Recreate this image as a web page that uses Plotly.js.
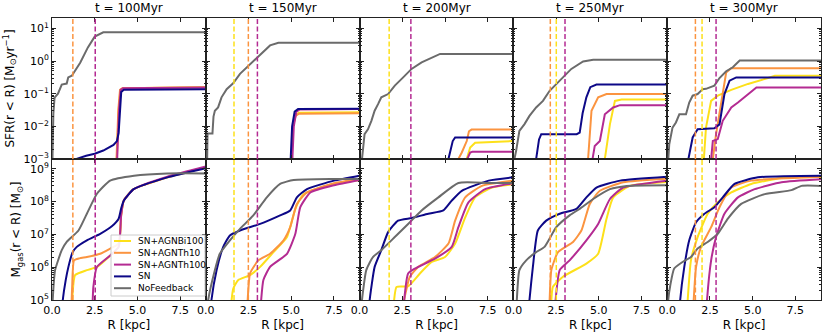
<!DOCTYPE html>
<html>
<head>
<meta charset="utf-8">
<script src="https://cdn.plot.ly/plotly-3.0.1.min.js"></script>
<style>
  html, body { margin: 0; padding: 0; background: #fff; }
  #plot { width: 830px; height: 336px; }
</style>
</head>
<body>
<div id="plot"></div>
<script>
(function () {
  'use strict';

  // ─── Data (log10 values) ─────────────────────────────────────────────────────
  var TIMES   = ['100', '150', '200', '250', '300'];
  var SERIES  = ['SN+AGNBi100', 'SN+AGNTh10', 'SN+AGNTh100', 'SN', 'NoFeedback'];
  var R_TICKS = [0, 2.5, 5, 7.5];
  var R_LABELS = ['0.0', '2.5', '5.0', '7.5'];

  // cumulative SFR, log10 [Msun/yr]
  var sfr_t100 = {
    'SN+AGNBi100': { R: [3.78, 3.9, 4.0, 4.15, 9.0], v: [-3.2, -1.5, -0.88, -0.83, -0.80] },
    'SN+AGNTh10':  { R: [3.76, 3.88, 3.98, 4.12, 9.0], v: [-3.2, -1.5, -0.88, -0.83, -0.80] },
    'SN+AGNTh100': { R: [3.8, 3.92, 4.02, 4.15, 9.0], v: [-3.2, -1.5, -0.88, -0.83, -0.81] },
    'SN':          { R: [1.3, 1.41, 2.0, 2.5, 3.0, 3.6, 3.8, 3.9, 4.05, 4.2, 9.0],
                     v: [-3.1, -3.0, -2.9, -2.84, -2.74, -2.57, -2.45, -2.2, -0.95, -0.88, -0.86] },
    'NoFeedback':  { R: [0.02, 0.08, 0.15, 0.35, 0.57, 0.86, 0.95, 1.16, 1.65, 2.1, 2.5, 3.0, 9.0],
                     v: [-3.2, -1.6, -1.12, -1.0, -0.72, -0.69, -0.5, -0.45, -0.05, 0.42, 0.75, 0.88, 0.88] }
  };
  var sfr_t150 = {
    'SN+AGNBi100': { R: [5.0, 5.1, 5.25, 5.45, 9.0], v: [-3.2, -2.0, -1.66, -1.58, -1.57] },
    'SN+AGNTh10':  { R: [5.0, 5.1, 5.25, 5.45, 9.0], v: [-3.2, -2.0, -1.68, -1.61, -1.60] },
    'SN+AGNTh100': { R: [5.05, 5.15, 5.3, 5.5, 9.0], v: [-3.2, -2.0, -1.55, -1.48, -1.47] },
    'SN':          { R: [4.95, 5.05, 5.2, 5.4, 9.0], v: [-3.2, -2.0, -1.55, -1.47, -1.46] },
    'NoFeedback':  { R: [0.05, 0.08, 0.1, 0.39, 0.45, 0.53, 0.72, 0.92, 1.22, 1.6, 2.0, 2.49, 3.08, 3.76, 4.25, 9.0],
                     v: [-3.2, -3.0, -2.22, -2.22, -1.7, -1.52, -1.42, -1.11, -0.86, -0.68, -0.39, -0.14, 0.14, 0.48, 0.56, 0.56] }
  };
  var sfr_t200 = {
    'SN+AGNBi100': { R: [6.25, 6.27, 6.47, 6.76, 9.0], v: [-3.2, -3.0, -2.65, -2.5, -2.45] },
    'SN+AGNTh10':  { R: [5.76, 5.78, 5.98, 6.27, 6.4, 6.55, 9.0], v: [-3.2, -3.0, -2.8, -2.45, -2.15, -2.1, -2.1] },
    'SN+AGNTh100': { R: [6.28, 6.3, 6.47, 6.6, 9.0], v: [-3.2, -3.0, -2.8, -2.78, -2.78] },
    'SN':          { R: [5.18, 5.2, 5.45, 5.59, 9.0], v: [-3.2, -3.0, -2.45, -2.34, -2.34] },
    'NoFeedback':  { R: [0.12, 0.14, 0.29, 0.49, 0.69, 0.88, 1.08, 1.27, 1.67, 2.06, 2.55, 3.04, 3.63, 4.22, 4.71, 9.0],
                     v: [-3.2, -3.0, -2.24, -2.09, -1.83, -1.52, -1.32, -1.11, -1.01, -0.75, -0.5, -0.24, -0.04, 0.1, 0.22, 0.22] }
  };
  var sfr_t250 = {
    'SN+AGNBi100': { R: [5.33, 5.35, 5.65, 5.94, 6.33, 9.0], v: [-3.2, -3.0, -1.93, -1.22, -1.18, -1.18] },
    'SN+AGNTh10':  { R: [4.35, 4.37, 4.57, 4.96, 5.45, 9.0], v: [-3.2, -3.0, -1.52, -1.11, -1.01, -1.01] },
    'SN+AGNTh100': { R: [4.61, 4.63, 4.76, 5.06, 5.35, 5.84, 6.24, 9.0], v: [-3.2, -3.0, -2.6, -2.45, -1.63, -1.42, -1.35, -1.35] },
    'SN':          { R: [1.31, 1.33, 1.5, 1.63, 3.7, 3.88, 4.05, 4.27, 4.5, 4.86, 9.0],
                     v: [-3.2, -3.0, -2.4, -2.24, -2.24, -2.19, -1.6, -1.11, -0.8, -0.72, -0.72] },
    'NoFeedback':  { R: [0.04, 0.06, 0.16, 0.35, 0.65, 0.94, 1.33, 1.73, 2.12, 2.51, 3.0, 3.39, 4.08, 4.67, 9.0],
                     v: [-3.2, -3.0, -2.75, -2.14, -1.93, -1.68, -1.42, -1.22, -0.91, -0.7, -0.45, -0.24, -0.01, 0.04, 0.04] }
  };
  var sfr_t300 = {
    'SN+AGNBi100': { R: [2.12, 2.14, 2.27, 2.57, 2.96, 3.75, 4.73, 5.9, 6.3, 9.0],
                     v: [-3.2, -3.0, -2.04, -1.22, -1.06, -0.88, -0.7, -0.52, -0.45, -0.45] },
    'SN+AGNTh10':  { R: [2.65, 2.67, 2.86, 3.16, 3.45, 3.75, 9.0], v: [-3.2, -3.0, -2.24, -1.22, -0.35, -0.22, -0.22] },
    'SN+AGNTh100': { R: [2.55, 2.57, 2.67, 2.96, 3.25, 3.75, 4.14, 4.73, 5.22, 9.0],
                     v: [-3.2, -3.0, -2.45, -2.39, -1.83, -1.42, -1.27, -1.01, -0.81, -0.81] },
    'SN':          { R: [1.22, 1.24, 1.49, 1.78, 2.76, 3.06, 3.35, 3.65, 4.04, 9.0],
                     v: [-3.2, -3.0, -2.34, -2.09, -2.06, -1.94, -1.01, -0.6, -0.5, -0.5] },
    'NoFeedback':  { R: [0.04, 0.06, 0.12, 0.31, 0.51, 0.71, 1.1, 1.29, 1.49, 1.78, 2.08, 2.27, 2.76, 3.06, 3.45, 3.84, 4.24, 9.0],
                     v: [-3.2, -3.0, -2.55, -2.04, -1.88, -1.63, -1.63, -1.27, -1.06, -1.01, -0.86, -0.85, -0.75, -0.52, -0.31, -0.19, 0.02, 0.02] }
  };

  // cumulative gas mass, log10 [Msun]
  var mgas_t100 = {
    'SN+AGNBi100': { R: [1.18, 1.22, 1.35, 2.04, 2.63, 3.41, 3.9, 4.05, 4.2, 4.78, 6.75, 9.0],
                     v: [4.8, 5.3, 5.76, 5.91, 6.01, 6.36, 6.62, 7.6, 8.03, 8.38, 8.74, 9.05] },
    'SN+AGNTh10':  { R: [1.14, 1.18, 1.29, 1.6, 2.04, 2.82, 3.41, 3.9, 4.05, 4.2, 4.78, 6.75, 9.0],
                     v: [4.8, 5.4, 6.21, 6.27, 6.31, 6.41, 6.57, 6.72, 7.6, 8.03, 8.38, 8.74, 9.05] },
    'SN+AGNTh100': { R: [2.37, 2.42, 2.63, 3.41, 3.9, 4.05, 4.2, 4.78, 6.75, 9.0],
                     v: [4.8, 5.4, 6.01, 6.36, 6.62, 7.6, 8.03, 8.38, 8.76, 9.07] },
    'SN':          { R: [0.6, 0.63, 0.8, 0.96, 1.2, 1.45, 2.04, 2.82, 3.5, 3.9, 4.05, 4.2, 4.78, 6.75, 9.0],
                     v: [4.8, 5.0, 5.6, 6.01, 6.45, 6.62, 6.82, 7.02, 7.25, 7.48, 7.8, 8.03, 8.38, 8.74, 9.02] },
    'NoFeedback':  { R: [0.02, 0.1, 0.18, 0.57, 0.86, 1.55, 2.04, 2.63, 3.4, 4.8, 6.75, 9.0],
                     v: [4.8, 5.5, 5.91, 6.52, 6.77, 7.12, 7.63, 8.24, 8.64, 8.79, 8.86, 8.86] }
  };
  var mgas_t150 = {
    'SN+AGNBi100': { R: [1.49, 1.51, 1.61, 1.9, 2.59, 3.18, 3.96, 4.75, 5.24, 5.73, 7.5, 9.0],
                     v: [4.8, 5.0, 5.35, 5.61, 5.76, 6.01, 6.46, 6.92, 7.78, 8.23, 8.54, 8.66] },
    'SN+AGNTh10':  { R: [2.43, 2.45, 2.59, 3.08, 3.76, 4.55, 4.94, 5.33, 5.92, 7.5, 9.0],
                     v: [4.8, 5.0, 5.81, 6.21, 6.41, 6.82, 7.22, 7.93, 8.28, 8.56, 8.69] },
    'SN+AGNTh100': { R: [3.22, 3.24, 3.37, 3.76, 4.75, 5.24, 5.53, 6.12, 7.5, 9.0],
                     v: [4.8, 5.0, 5.61, 6.01, 6.41, 7.02, 7.83, 8.28, 8.5, 8.66] },
    'SN':          { R: [0.3, 0.33, 0.63, 1.02, 1.41, 2.0, 3.18, 4.35, 4.94, 5.33, 5.92, 7.5, 9.0],
                     v: [4.8, 5.0, 5.91, 6.62, 6.97, 7.12, 7.32, 7.58, 7.73, 8.13, 8.38, 8.64, 8.79] },
    'NoFeedback':  { R: [0.1, 0.14, 0.53, 0.82, 1.41, 2.0, 2.78, 3.57, 4.35, 5.14, 7.5, 9.0],
                     v: [4.8, 5.0, 5.91, 6.41, 6.82, 7.17, 7.58, 8.13, 8.54, 8.66, 8.69, 8.69] }
  };
  var mgas_t200 = {
    'SN+AGNBi100': { R: [2.0, 2.02, 2.16, 2.84, 3.53, 4.22, 5.0, 5.59, 6.18, 6.76, 7.75, 9.0],
                     v: [4.8, 5.0, 5.4, 5.42, 5.81, 6.16, 6.31, 6.72, 7.52, 8.13, 8.43, 8.53] },
    'SN+AGNTh10':  { R: [2.59, 2.61, 2.94, 3.43, 4.41, 5.2, 5.59, 6.18, 7.16, 9.0],
                     v: [4.8, 5.0, 5.71, 6.01, 6.31, 6.72, 7.42, 8.13, 8.48, 8.64] },
    'SN+AGNTh100': { R: [2.59, 2.61, 2.84, 3.24, 4.41, 5.39, 5.78, 6.37, 7.35, 9.0],
                     v: [4.8, 5.0, 5.81, 5.96, 6.26, 6.62, 7.22, 7.98, 8.38, 8.56] },
    'SN':          { R: [0.57, 0.59, 0.88, 1.27, 1.67, 2.25, 3.04, 4.02, 4.9, 5.39, 5.98, 7.55, 9.0],
                     v: [4.8, 5.0, 6.01, 6.52, 7.07, 7.42, 7.5, 7.63, 7.73, 8.03, 8.33, 8.64, 8.74] },
    'NoFeedback':  { R: [0.12, 0.14, 0.39, 0.78, 1.27, 2.06, 2.84, 3.63, 4.61, 5.78, 7.55, 9.0],
                     v: [4.8, 5.0, 5.91, 6.31, 6.52, 6.92, 7.32, 7.73, 8.13, 8.57, 8.57, 8.57] }
  };
  var mgas_t250 = {
    'SN+AGNBi100': { R: [2.2, 2.22, 2.31, 2.9, 4.27, 4.96, 5.45, 5.84, 6.82, 9.0],
                     v: [4.8, 5.0, 5.4, 5.71, 6.11, 6.41, 7.48, 8.13, 8.48, 8.6] },
    'SN+AGNTh10':  { R: [2.1, 2.12, 2.22, 2.61, 3.49, 3.98, 4.47, 5.06, 6.43, 9.0],
                     v: [4.8, 5.0, 5.91, 6.46, 6.77, 7.12, 7.93, 8.33, 8.59, 8.7] },
    'SN+AGNTh100': { R: [2.45, 2.47, 2.71, 3.29, 4.27, 4.96, 5.65, 6.43, 9.0],
                     v: [4.8, 5.0, 5.91, 6.21, 6.82, 7.32, 8.08, 8.43, 8.64] },
    'SN':          { R: [0.92, 0.94, 1.14, 1.43, 1.92, 2.71, 3.69, 4.27, 4.86, 6.24, 9.0],
                     v: [4.8, 5.0, 6.01, 7.12, 7.42, 7.63, 7.78, 8.13, 8.43, 8.64, 8.76] },
    'NoFeedback':  { R: [0.18, 0.2, 0.35, 0.75, 1.33, 1.82, 2.51, 3.29, 3.88, 4.67, 5.65, 6.63, 9.0],
                     v: [4.8, 5.0, 5.91, 6.21, 6.46, 6.62, 7.22, 7.58, 7.78, 8.08, 8.38, 8.48, 8.5] }
  };
  var mgas_t300 = {
    'SN+AGNBi100': { R: [1.18, 1.2, 1.39, 1.78, 2.37, 2.96, 3.75, 4.92, 6.69, 9.0],
                     v: [4.8, 5.0, 6.21, 6.92, 7.63, 7.98, 8.28, 8.54, 8.72, 8.76] },
    'SN+AGNTh10':  { R: [1.53, 1.55, 1.69, 1.98, 2.57, 3.06, 3.75, 4.92, 9.0],
                     v: [4.8, 5.0, 6.01, 6.62, 7.22, 7.83, 8.43, 8.64, 8.76] },
    'SN+AGNTh100': { R: [2.31, 2.33, 2.57, 2.86, 3.35, 4.14, 5.12, 6.69, 9.0],
                     v: [4.8, 5.0, 6.21, 6.92, 7.63, 8.13, 8.38, 8.59, 8.68] },
    'SN':          { R: [0.74, 0.76, 1.0, 1.29, 1.69, 2.18, 2.76, 3.25, 3.94, 5.31, 9.0],
                     v: [4.8, 5.0, 6.01, 6.82, 7.37, 7.63, 7.83, 8.13, 8.54, 8.74, 8.79] },
    'NoFeedback':  { R: [0.04, 0.06, 0.18, 0.41, 0.9, 1.39, 1.78, 2.37, 2.96, 3.55, 4.33, 5.71, 7.27, 7.86, 9.0],
                     v: [4.8, 5.0, 5.45, 5.96, 6.16, 6.31, 6.57, 6.77, 7.02, 7.48, 7.93, 8.23, 8.35, 8.48, 8.48] }
  };

  // dashed vertical markers per snapshot
  var vlines_t100 = { 'SN+AGNTh10': 1.22, 'SN+AGNTh100': 2.53 };
  var vlines_t150 = { 'SN+AGNBi100': 1.65, 'SN+AGNTh10': 2.49, 'SN+AGNTh100': 3.02 };
  var vlines_t200 = { 'SN+AGNBi100': 1.73, 'SN+AGNTh100': 3.0 };
  var vlines_t250 = { 'SN+AGNTh10': 2.16, 'SN+AGNBi100': 2.51, 'SN+AGNTh100': 3.02 };
  var vlines_t300 = { 'SN+AGNTh10': 1.65, 'SN+AGNBi100': 2.04, 'SN+AGNTh100': 2.86 };

  var SFR_PANELS  = [sfr_t100, sfr_t150, sfr_t200, sfr_t250, sfr_t300];
  var MGAS_PANELS = [mgas_t100, mgas_t150, mgas_t200, mgas_t250, mgas_t300];
  var VLINES      = [vlines_t100, vlines_t150, vlines_t200, vlines_t250, vlines_t300];

  // ─── Style ───────────────────────────────────────────────────────────────────
  var COLORS = {
    'SN+AGNBi100': '#fde01a',
    'SN+AGNTh10':  '#fb9440',
    'SN+AGNTh100': '#b42b92',
    'SN':          '#0d0887',
    'NoFeedback':  '#6b6b6b'
  };
  var FONT = 'DejaVu Sans, Arial, sans-serif';
  var AXC  = '#222';
  var W = 830, H = 336, ML = 52, MR = 9, MT = 18, MB = 36;

  function pow10(a) { return a.map(function (v) { return Math.pow(10, v); }); }
  function axName(n) { return n === 1 ? '' : String(n); }
  // pixel -> paper fraction (for the hand-built legend box)
  function px(x) { return (x - ML) / (W - ML - MR); }
  function py(y) { return (H - MB - y) / (H - MT - MB); }

  function minorVals(lo, hi) {
    var out = [];
    for (var e = lo; e < hi; e++) {
      for (var m = 2; m <= 9; m++) out.push(m * Math.pow(10, e));
    }
    return out;
  }

  var traces = [];
  var shapes = [];
  var annotations = [];
  var layout = {
    width: W, height: H,
    margin: { l: ML, r: MR, t: MT, b: MB },
    paper_bgcolor: '#fff', plot_bgcolor: '#fff',
    font: { family: FONT, size: 11, color: '#000' },
    showlegend: false
  };

  for (var row = 0; row < 2; row++) {
    var panels = row === 0 ? SFR_PANELS : MGAS_PANELS;
    for (var p = 0; p < 5; p++) {
      var n  = row * 5 + p + 1;
      var xa = 'x' + axName(n), ya = 'y' + axName(n);
      var isTop = row === 0;

      SERIES.forEach(function (s) {
        var d = panels[p][s];
        traces.push({
          x: d.R, y: pow10(d.v), xaxis: xa, yaxis: ya,
          mode: 'lines', name: s,
          line: isTop ? { color: COLORS[s], width: 2 }
                      : { color: COLORS[s], width: 2, shape: 'spline', smoothing: 0.5 }
        });
      });

      Object.keys(VLINES[p]).forEach(function (s) {
        shapes.push({
          type: 'line', xref: xa, yref: ya + ' domain',
          x0: VLINES[p][s], x1: VLINES[p][s], y0: 0, y1: 1,
          line: { color: COLORS[s], width: 1.5, dash: '5px,2.5px' }
        });
      });

      var lo = isTop ? -3 : 5, hi = isTop ? 2 : 10;
      var majors = [], majText = [];
      for (var e = lo; e < hi; e++) {
        majors.push(Math.pow(10, e));
        majText.push('10<sup>' + (e < 0 ? '\u2212' + (-e) : e) + '</sup>');
      }

      layout['xaxis' + axName(n)] = {
        domain: [p * 0.2, (p + 1) * 0.2], anchor: ya,
        range: [0, 9], tickmode: 'array', tickvals: R_TICKS, ticktext: R_LABELS,
        showticklabels: !isTop, ticks: 'inside', ticklen: 4, tickcolor: AXC,
        showline: true, linecolor: AXC, linewidth: 1, mirror: 'ticks',
        showgrid: false, zeroline: false,
        tickfont: { size: 11 },
        title: isTop ? { text: '' } : { text: 'R [kpc]', font: { size: 12 }, standoff: 4 }
      };
      layout['yaxis' + axName(n)] = {
        domain: isTop ? [0.5, 1] : [0, 0.5], anchor: xa,
        type: 'log', range: isTop ? [-3, 1.32] : [5, 9.3],
        tickmode: 'array', tickvals: majors, ticktext: majText,
        showticklabels: p === 0, ticks: 'inside', ticklen: 4, tickcolor: AXC,
        minor: { tickmode: 'array', tickvals: minorVals(lo, hi), ticks: 'inside', ticklen: 2, tickcolor: AXC },
        showline: true, linecolor: AXC, linewidth: 1, mirror: 'ticks',
        showgrid: false, zeroline: false,
        tickfont: { size: 11 },
        title: p === 0 ? {
          text: isTop ? 'SFR(r < R) [M<sub>\u2299</sub>yr<sup>\u22121</sup>]'
                      : 'M<sub>gas</sub>(r < R) [M<sub>\u2299</sub>]',
          font: { size: 12 }, standoff: 6
        } : { text: '' }
      };

      if (isTop) {
        annotations.push({
          xref: xa + ' domain', yref: 'paper', x: 0.5, y: 1, yshift: 1,
          xanchor: 'center', yanchor: 'bottom', showarrow: false,
          text: 't = ' + TIMES[p] + 'Myr', font: { size: 12 }
        });
      }
    }
  }

  // ─── Legend (compact, matplotlib-like spacing) ───────────────────────────────
  shapes.push({
    type: 'rect', xref: 'paper', yref: 'paper', layer: 'above',
    x0: px(111), x1: px(205), y0: py(296), y1: py(235),
    fillcolor: 'rgba(255,255,255,0.9)', line: { color: '#ccc', width: 1 }
  });
  SERIES.forEach(function (s, i) {
    var yy = 241 + i * 11.8;
    shapes.push({
      type: 'line', xref: 'paper', yref: 'paper', layer: 'above',
      x0: px(114), x1: px(131), y0: py(yy), y1: py(yy),
      line: { color: COLORS[s], width: 2 }
    });
    annotations.push({
      xref: 'paper', yref: 'paper', x: px(136), y: py(yy),
      xanchor: 'left', yanchor: 'middle', showarrow: false,
      text: s, font: { size: 9 }
    });
  });

  layout.shapes = shapes;
  layout.annotations = annotations;

  Plotly.newPlot('plot', traces, layout, { staticPlot: true, displayModeBar: false });
})();
</script>
</body>
</html>
